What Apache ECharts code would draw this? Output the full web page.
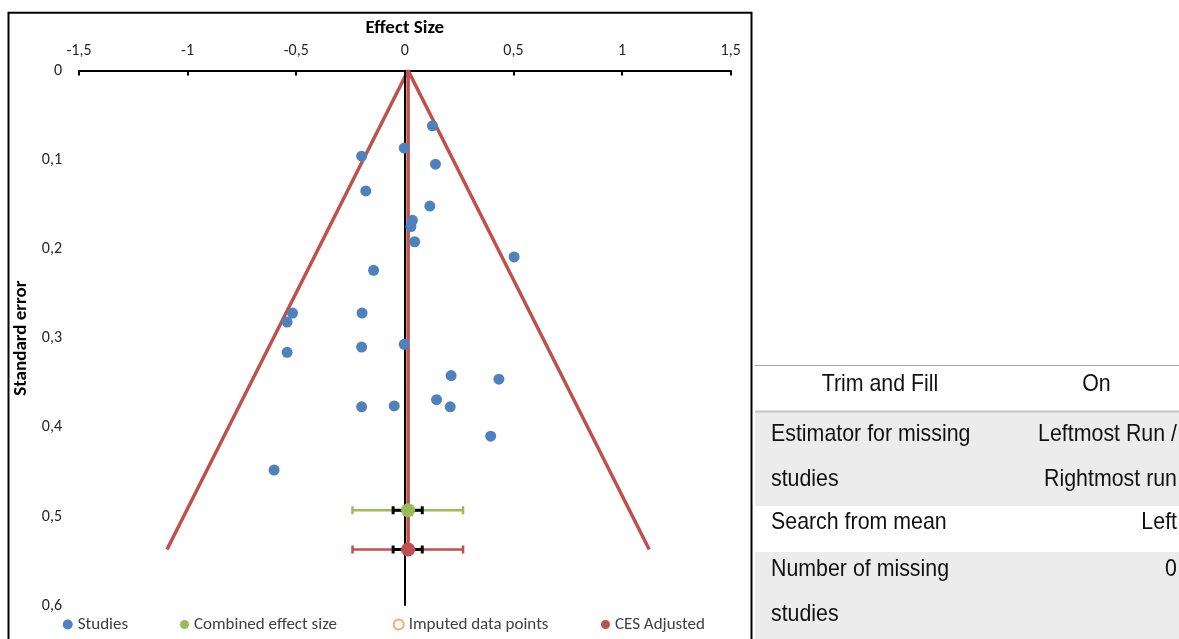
<!DOCTYPE html>
<html>
<head>
<meta charset="utf-8">
<script src="https://cdn.jsdelivr.net/npm/echarts@6/dist/echarts.min.js"></script>
<style>
  html, body { margin: 0; padding: 0; background: #fff; }
  #chart { width: 1179px; height: 639px; }
</style>
</head>
<body>
<div id="chart"></div>
<script>
// Individual studies: effect size and standard error
const studyEffect = [0.127, -0.003, -0.199, 0.141, -0.180, 0.115, 0.035, 0.028, 0.045, 0.503,
                     -0.144, -0.517, -0.542, -0.197, -0.542, -0.199, -0.003, 0.213, 0.433, 0.146,
                     0.209, -0.049, -0.199, 0.395, -0.602];
const studySE = [0.062, 0.087, 0.096, 0.105, 0.135, 0.152, 0.168, 0.175, 0.192, 0.209,
                 0.224, 0.272, 0.282, 0.272, 0.316, 0.310, 0.307, 0.342, 0.346, 0.369,
                 0.377, 0.376, 0.377, 0.410, 0.448];

// Funnel outline (left end, apex, right end)
const funnelEffect = [-1.095, 0.015, 1.125];
const funnelSE = [0.537, 0, 0.537];

// Combined effect size and the trim-and-fill adjusted estimate
const combinedEffect = 0.015;
const combinedSE = 0.493;
const adjustedEffect = 0.015;
const adjustedSE = 0.537;
const outerInterval = [-0.241, 0.268];
const innerInterval = [-0.054, 0.080];

// Axis ranges
const effectRange = [-1.5, 1.5, 0.5];
const seRange = [0, 0.6, 0.1];

// Settings table
const tableLeft = ['Trim and Fill', 'Estimator for missing\nstudies', 'Search from mean', 'Number of missing\nstudies'];
const tableRight = ['On', 'Leftmost Run /\nRightmost run', 'Left', '0'];

const BLUE = '#4F81BD', RED = '#C0504D', GREEN = '#9BBB59', ORANGE = '#F79646';
const FONT = 'Carlito, Lato, sans-serif';

const fmt = v => String(+(+v).toFixed(1)).replace('.', ',');

function errorBar(color) {
  return function (params, api) {
    const y = api.value(1);
    const a = api.coord([api.value(2), y]);
    const b = api.coord([api.value(3), y]);
    const c = api.coord([api.value(4), y]);
    const d = api.coord([api.value(5), y]);
    const cap = 4;
    const seg = (x1, y1, x2, y2, st) => ({ type: 'line', shape: { x1, y1, x2, y2 }, style: st });
    const outer = { stroke: color, lineWidth: 2.5 };
    const inner = { stroke: '#000', lineWidth: 3 };
    return {
      type: 'group',
      children: [
        seg(a[0], a[1], b[0], b[1], outer),
        seg(a[0], a[1] - cap, a[0], a[1] + cap, outer),
        seg(b[0], b[1] - cap, b[0], b[1] + cap, outer),
        seg(c[0], c[1], d[0], d[1], inner),
        seg(c[0], c[1] - cap, c[0], c[1] + cap, inner),
        seg(d[0], d[1] - cap, d[0], d[1] + cap, inner)
      ]
    };
  };
}

// Table drawing
const tableGraphics = [];
const rowTop = [365, 412, 506, 552];
const rowBottom = [412, 506, 552, 639];
const rowFill = ['#ffffff', '#ececec', '#ffffff', '#ececec'];
rowTop.forEach((t, i) => {
  tableGraphics.push({
    type: 'rect', silent: true,
    shape: { x: 755, y: t, width: 424, height: rowBottom[i] - t },
    style: { fill: rowFill[i] }
  });
});
tableGraphics.push({ type: 'line', silent: true, shape: { x1: 755, y1: 365.5, x2: 1179, y2: 365.5 }, style: { stroke: '#a6a6a6', lineWidth: 1 } });
tableGraphics.push({ type: 'line', silent: true, shape: { x1: 755, y1: 411.5, x2: 1179, y2: 411.5 }, style: { stroke: '#c4c4c4', lineWidth: 2 } });

const TFONT = { fontFamily: 'Liberation Sans, Arial, sans-serif', fontSize: 24, fill: '#111' };
const firstBaseline = [393, 442.5, 531, 577.5];
const lineStep = 45.5;
function addText(str, x, baseline, align) {
  str.split('\n').forEach((line, k) => {
    tableGraphics.push({
      type: 'text', silent: true,
      x: x, y: baseline + k * lineStep - 8.5,
      scaleX: 0.89,
      style: Object.assign({ text: line, align: align, verticalAlign: 'middle' }, TFONT)
    });
  });
}
tableLeft.forEach((s, i) => addText(s, i === 0 ? 880 : 771, firstBaseline[i], i === 0 ? 'center' : 'left'));
tableRight.forEach((s, i) => addText(s, i === 0 ? 1096.5 : 1177, firstBaseline[i], i === 0 ? 'center' : 'right'));

// Chart frame
tableGraphics.push({
  type: 'rect', silent: true,
  shape: { x: 8.5, y: 12.7, width: 743, height: 700 },
  style: { fill: 'none', stroke: '#000', lineWidth: 2 }
});

const legendBase = {
  top: 616, itemGap: 0, padding: 0, selectedMode: false,
  textStyle: { fontFamily: FONT, fontSize: 17, color: '#404040' }
};

const chart = echarts.init(document.getElementById('chart'), null, { renderer: 'canvas' });
chart.setOption({
  backgroundColor: '#fff',
  animation: false,
  textStyle: { fontFamily: FONT },
  grid: { left: 79, right: 448.3, top: 70.5, bottom: 33.3, containLabel: false },
  xAxis: {
    type: 'value', position: 'top',
    min: effectRange[0], max: effectRange[1], interval: effectRange[2],
    name: 'Effect Size', nameLocation: 'middle', nameGap: 22.5,
    nameTextStyle: { fontFamily: FONT, fontWeight: 'bold', fontSize: 19, color: '#000' },
    axisLine: { show: true, onZero: false, lineStyle: { color: '#000', width: 2 } },
    axisTick: { show: true, inside: true, length: 5, lineStyle: { color: '#000', width: 2 } },
    axisLabel: { formatter: fmt, margin: 12, fontSize: 16, color: '#262626', fontFamily: FONT },
    splitLine: { show: false }
  },
  yAxis: {
    type: 'value', inverse: true,
    min: seRange[0], max: seRange[1], interval: seRange[2],
    name: 'Standard error', nameLocation: 'middle', nameGap: 35, nameRotate: 90,
    nameTextStyle: { fontFamily: FONT, fontWeight: 'bold', fontSize: 19, color: '#000' },
    axisLine: { show: false },
    axisTick: { show: false },
    axisLabel: { formatter: fmt, margin: 17, fontSize: 16, color: '#262626', fontFamily: FONT },
    splitLine: { show: false }
  },
  legend: [
    Object.assign({ left: 62.7, itemWidth: 10, itemHeight: 10, data: [{ name: 'Studies', icon: 'circle' }] }, legendBase),
    Object.assign({ left: 180, itemWidth: 9, itemHeight: 9, data: [{ name: 'Combined effect size', icon: 'circle' }] }, legendBase),
    Object.assign({ left: 392.7, itemWidth: 10, itemHeight: 10, data: [{ name: 'Imputed data points', icon: 'circle', itemStyle: { color: '#fff', borderColor: ORANGE, borderWidth: 2 } }] }, legendBase),
    Object.assign({ left: 601, itemWidth: 9, itemHeight: 9, data: [{ name: 'CES Adjusted', icon: 'circle' }] }, legendBase)
  ],
  graphic: tableGraphics,
  series: [
    {
      name: 'Funnel', type: 'line', silent: true, z: 2,
      data: funnelEffect.map((e, i) => [e, funnelSE[i]]),
      symbol: 'none',
      lineStyle: { color: RED, width: 3.5 },
      markLine: {
        silent: true, symbol: 'none', label: { show: false },
        lineStyle: { color: '#000', width: 2, type: 'solid' },
        data: [{ xAxis: 0 }]
      }
    },
    {
      name: 'Adjusted line', type: 'line', silent: true, z: 3,
      data: [[adjustedEffect, 0], [adjustedEffect, adjustedSE]],
      symbol: 'none',
      lineStyle: { color: RED, width: 3.5 }
    },
    {
      name: 'Combined interval', type: 'custom', silent: true, z: 4,
      renderItem: errorBar(GREEN),
      encode: { x: [0, 2, 3], y: 1 },
      data: [[combinedEffect, combinedSE, outerInterval[0], outerInterval[1], innerInterval[0], innerInterval[1]]]
    },
    {
      name: 'Adjusted interval', type: 'custom', silent: true, z: 4,
      renderItem: errorBar(RED),
      encode: { x: [0, 2, 3], y: 1 },
      data: [[adjustedEffect, adjustedSE, outerInterval[0], outerInterval[1], innerInterval[0], innerInterval[1]]]
    },
    {
      name: 'Studies', type: 'scatter', z: 5,
      symbol: 'circle', symbolSize: 11,
      itemStyle: { color: BLUE, opacity: 1 },
      data: studyEffect.map((e, i) => [e, studySE[i]])
    },
    {
      name: 'Combined effect size', type: 'scatter', z: 6,
      symbol: 'circle', symbolSize: 14,
      itemStyle: { color: GREEN, opacity: 1 },
      data: [[combinedEffect, combinedSE]]
    },
    {
      name: 'Imputed data points', type: 'scatter', z: 6,
      symbol: 'circle', symbolSize: 10,
      itemStyle: { color: '#fff', borderColor: ORANGE, borderWidth: 2 },
      data: []
    },
    {
      name: 'CES Adjusted', type: 'scatter', z: 6,
      symbol: 'circle', symbolSize: 14,
      itemStyle: { color: RED, opacity: 1 },
      data: [[adjustedEffect, adjustedSE]]
    }
  ]
});
</script>
</body>
</html>
